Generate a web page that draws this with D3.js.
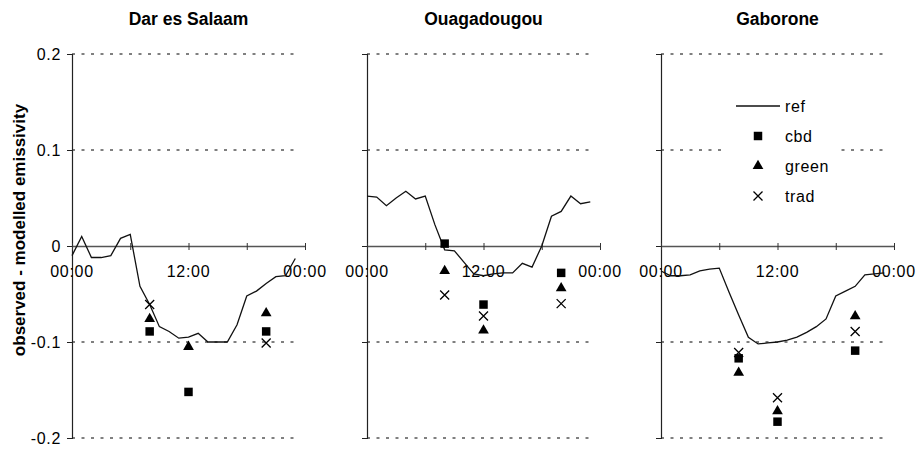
<!DOCTYPE html>
<html>
<head>
<meta charset="utf-8">
<script src="https://cdn.jsdelivr.net/npm/d3@7"></script>
<style>
  body { margin: 0; background: #fff; }
  text { font-family: "Liberation Sans", Arial, sans-serif; fill: #000; }
</style>
</head>
<body>
<div class="wrapper"></div>
<script>
// hours of the day for the reference curve
var hours = [0, 1, 2, 3, 4, 5, 6, 7, 8, 9, 10, 11, 12, 13, 14, 15, 16, 17, 18, 19, 20, 21, 22, 23];
// hours of the observations
var obsHours = [8, 12, 20];

var cities = ["Dar es Salaam", "Ouagadougou", "Gaborone"];

var refDar = [-0.010, 0.010, -0.012, -0.012, -0.010, 0.008, 0.012, -0.042, -0.061, -0.084, -0.089, -0.096,
              -0.095, -0.091, -0.100, -0.100, -0.100, -0.082, -0.052, -0.047, -0.039, -0.032, -0.031, -0.013];
var refOua = [0.052, 0.051, 0.042, 0.050, 0.057, 0.049, 0.052, 0.022, -0.004, -0.005, -0.017, -0.029,
              -0.031, -0.029, -0.028, -0.028, -0.018, -0.022, 0.000, 0.031, 0.036, 0.052, 0.044, 0.046];
var refGab = [-0.026, -0.031, -0.031, -0.030, -0.026, -0.024, -0.023, -0.048, -0.072, -0.095, -0.102, -0.101,
              -0.100, -0.098, -0.095, -0.090, -0.084, -0.076, -0.052, -0.047, -0.042, -0.030, -0.029, -0.028];

var cbdDar = [-0.089, -0.152, -0.089];
var greenDar = [-0.076, -0.105, -0.070];
var tradDar = [-0.061, null, -0.101];

var cbdOua = [0.0025, -0.061, -0.028];
var greenOua = [-0.026, -0.088, -0.044];
var tradOua = [-0.051, -0.073, -0.060];

var cbdGab = [-0.117, -0.183, -0.109];
var greenGab = [-0.132, -0.172, -0.073];
var tradGab = [-0.111, -0.158, -0.089];

var yTicks = [-0.2, -0.1, 0, 0.1, 0.2];
var yTickLabels = ["-0.2", "-0.1", "0", "0.1", "0.2"];
var xTicks = [0, 6, 12, 18, 24];
var xTickLabels = {0: "00:00", 12: "12:00", 24: "00:00"};

var seriesNames = ["ref", "cbd", "green", "trad"];

var panels = [
  {name: cities[0], ref: refDar, cbd: cbdDar, green: greenDar, trad: tradDar, left: 72},
  {name: cities[1], ref: refOua, cbd: cbdOua, green: greenOua, trad: tradOua, left: 367},
  {name: cities[2], ref: refGab, cbd: cbdGab, green: greenGab, trad: tradGab, left: 661}
];

var width = 916, height = 450, panelW = 233;

var svg = d3.select(".wrapper").append("svg")
    .attr("width", width)
    .attr("height", height);

var y = d3.scaleLinear().domain([-0.2, 0.2]).range([438, 54]);

var squareSym = d3.symbol().type(d3.symbolSquare).size(72);
var triSym = d3.symbol().type(d3.symbolTriangle).size(50);
var crossPath = "M-4.5,-4.5L4.5,4.5M-4.5,4.5L4.5,-4.5";

panels.forEach(function(p, i) {
  var x = d3.scaleLinear().domain([0, 24]).range([p.left, p.left + panelW]);
  var g = svg.append("g");

  // title
  g.append("text")
      .attr("x", p.left + panelW / 2)
      .attr("y", 25)
      .attr("text-anchor", "middle")
      .style("font-weight", "bold")
      .style("font-size", "17.5px")
      .text(p.name);

  // dashed grid
  g.selectAll(".grid")
      .data(yTicks.filter(function(d) { return d !== 0; }))
    .enter().append("line")
      .attr("x1", p.left)
      .attr("x2", p.left + panelW - 5)
      .attr("y1", function(d) { return y(d); })
      .attr("y2", function(d) { return y(d); })
      .attr("stroke", "#000")
      .attr("stroke-width", 1)
      .attr("stroke-dasharray", "3,6.5");

  // y axis
  var yAxis = d3.axisLeft(y).tickValues(yTicks).tickSize(5).tickFormat("");
  var ya = g.append("g")
      .attr("transform", "translate(" + p.left + ",0)")
      .call(yAxis);
  ya.select(".domain").attr("stroke", "#222").attr("stroke-width", 1.2);
  ya.selectAll(".tick line").attr("stroke", "#222");

  if (i === 0) {
    g.selectAll(".ylab")
        .data(yTicks)
      .enter().append("text")
        .attr("x", p.left - 11)
        .attr("y", function(d) { return y(d); })
        .attr("dy", "0.35em")
        .attr("text-anchor", "end")
        .style("font-size", "16px")
        .style("letter-spacing", "0.7px")
        .text(function(d, j) { return yTickLabels[j]; });
  }

  // x axis at zero
  var xAxis = d3.axisBottom(x).tickValues(xTicks).tickSizeInner(4).tickSizeOuter(0).tickFormat("");
  var xa = g.append("g")
      .attr("transform", "translate(0," + y(0) + ")")
      .call(xAxis);
  xa.select(".domain").attr("stroke", "#555").attr("stroke-width", 1.6);
  xa.selectAll(".tick line").attr("stroke", "#333").attr("y1", -3);

  g.selectAll(".xlab")
      .data(xTicks.filter(function(d) { return xTickLabels[d]; }))
    .enter().append("text")
      .attr("x", function(d) { return x(d); })
      .attr("y", y(0) + 31)
      .attr("text-anchor", "middle")
      .style("font-size", "16px")
      .style("letter-spacing", "0.7px")
      .text(function(d) { return xTickLabels[d]; });

  // reference curve
  var line = d3.line()
      .x(function(d, j) { return x(hours[j]); })
      .y(function(d) { return y(d); });

  g.append("path")
      .datum(p.ref)
      .attr("d", line)
      .attr("fill", "none")
      .attr("stroke", "#111")
      .attr("stroke-width", 1.3);

  // observations
  obsHours.forEach(function(h, j) {
    if (p.cbd[j] != null)
      g.append("path").attr("d", squareSym())
        .attr("transform", "translate(" + x(h) + "," + y(p.cbd[j]) + ")")
        .attr("fill", "#000");
    if (p.green[j] != null)
      g.append("path").attr("d", triSym())
        .attr("transform", "translate(" + x(h) + "," + y(p.green[j]) + ")")
        .attr("fill", "#000");
    if (p.trad[j] != null)
      g.append("path").attr("d", crossPath)
        .attr("transform", "translate(" + x(h) + "," + y(p.trad[j]) + ")")
        .attr("fill", "none")
        .attr("stroke", "#000")
        .attr("stroke-width", 1.3);
  });
});

// y axis title
svg.append("text")
    .attr("transform", "translate(25,230) rotate(-90)")
    .attr("text-anchor", "middle")
    .style("font-weight", "bold")
    .style("font-size", "17px")
    .text("observed - modelled emissivity");

// legend
var legend = svg.append("g");
legend.append("rect")
    .attr("x", 724).attr("y", 90)
    .attr("width", 114).attr("height", 122)
    .attr("fill", "#fff");

var rows = legend.selectAll(".row")
    .data(seriesNames)
  .enter().append("g")
    .attr("transform", function(d, i) { return "translate(758," + (106 + i * 30) + ")"; });

rows.append("text")
    .attr("x", 27)
    .attr("dy", "0.35em")
    .style("font-size", "16px")
    .style("letter-spacing", "0.6px")
    .text(function(d) { return d; });

rows.each(function(d) {
  var r = d3.select(this);
  if (d === "ref") r.append("line").attr("x1", -22).attr("x2", 22).attr("stroke", "#111").attr("stroke-width", 1.3);
  if (d === "cbd") r.append("path").attr("d", squareSym()).attr("fill", "#000");
  if (d === "green") r.append("path").attr("d", triSym()).attr("fill", "#000");
  if (d === "trad") r.append("path").attr("d", crossPath).attr("fill", "none").attr("stroke", "#000").attr("stroke-width", 1.3);
});
</script>
</body>
</html>
